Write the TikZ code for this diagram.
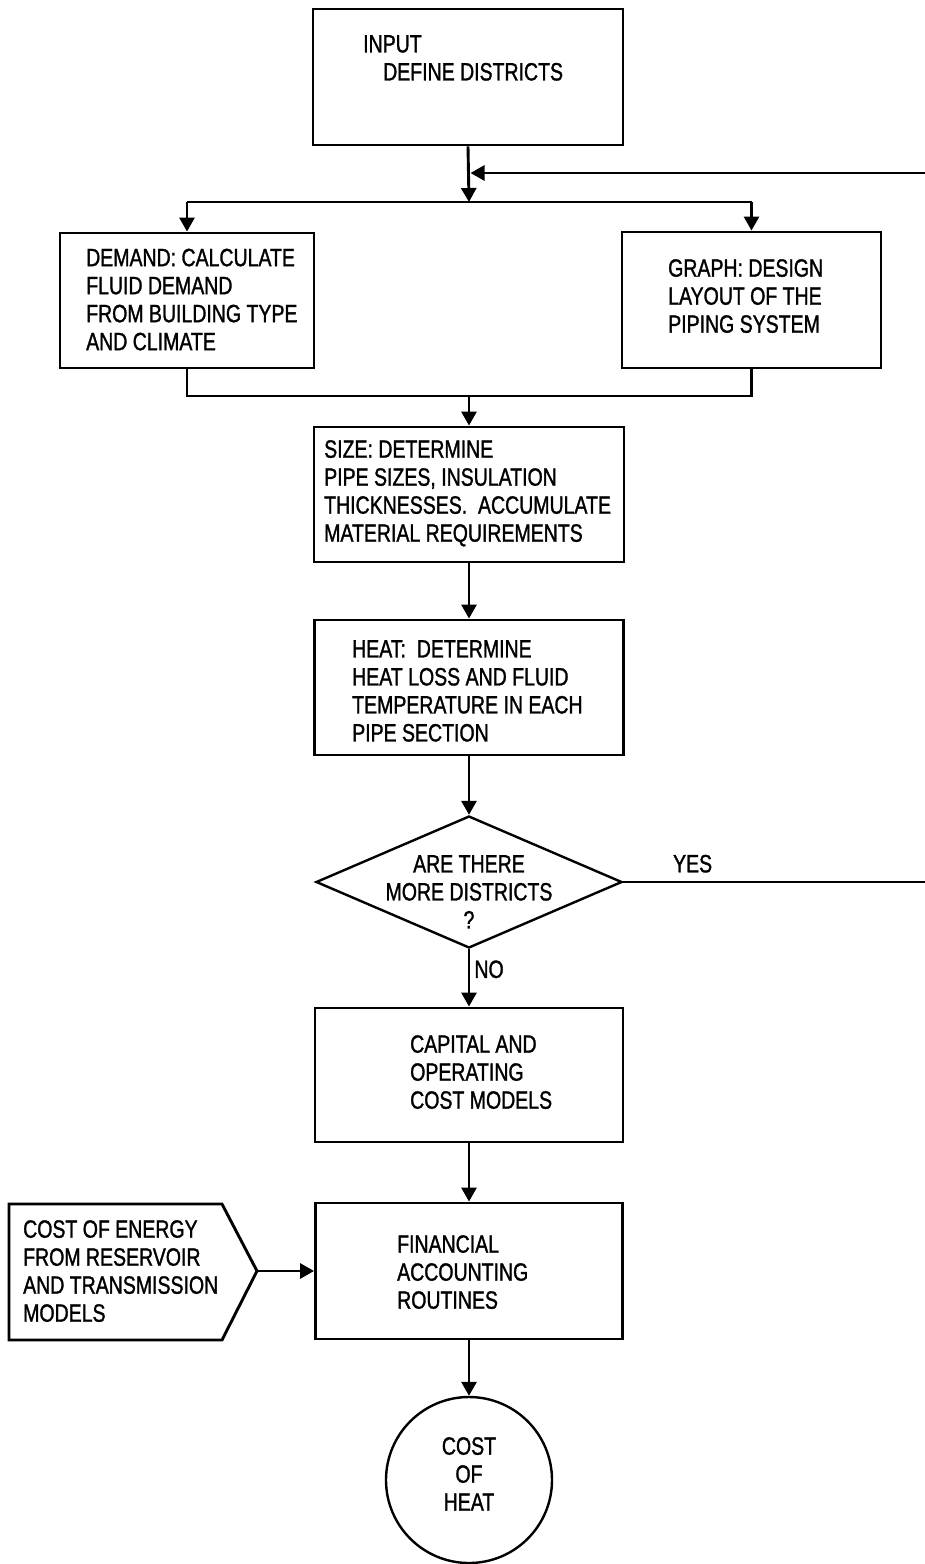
\documentclass[tikz,border=0pt]{standalone}
\usepackage{fontspec}
\setmainfont{Liberation Sans}[FakeStretch=0.78,FakeBold=1.2]
\usetikzlibrary{arrows.meta,shapes.geometric}
\begin{document}
\begin{tikzpicture}[x=1pt,y=-1pt,
  box/.style={draw, rectangle, line width=2.9pt, inner sep=0pt},
  txt/.style={inner sep=0pt, anchor=north west, align=left, font=\fontsize{25}{28}\selectfont},
  ctxt/.style={inner sep=0pt, anchor=north, align=center, font=\fontsize{25}{28}\selectfont},
  conn/.style={line width=2.9pt},
  arr/.style={conn, -{Triangle[length=14pt,width=15pt]}}]
\fill[white] (0,0) rectangle (925,1564);
\useasboundingbox (0,0) rectangle (925,1564);

% boxes
\node[box, minimum width=310pt, minimum height=136pt] (input) at (468,77) {};
\node[box, minimum width=254pt, minimum height=135pt] (demand) at (187,300.5) {};
\node[box, minimum width=259pt, minimum height=136pt] (graph) at (751.5,300) {};
\node[box, minimum width=310pt, minimum height=135pt] (size) at (469,494.5) {};
\node[box, minimum width=309pt, minimum height=135pt] (heat) at (469,687.5) {};
\node[draw, diamond, line width=2.4pt, minimum width=306pt, minimum height=132pt, inner sep=0pt] (dia) at (469,882) {};
\node[box, minimum width=308pt, minimum height=134pt] (capital) at (469,1075) {};
\node[box, minimum width=307pt, minimum height=136pt] (fin) at (469,1271) {};
\node[draw, circle, line width=2.4pt, minimum size=166pt, inner sep=0pt] (heatcost) at (469,1480) {};
\draw[line width=2.9pt, line join=miter] (9,1204) -- (222,1204) -- (257,1271) -- (222,1340) -- (9,1340) -- cycle;
\coordinate (etip) at (257,1271);

% texts
\node[txt] (tinput) at (363,35) {INPUT\\\hspace*{20pt}DEFINE DISTRICTS};
\node[txt] (tdemand) at (86,248.5) {DEMAND: CALCULATE\\FLUID DEMAND\\FROM BUILDING TYPE\\AND CLIMATE};
\node[txt] (tgraph) at (668,259) {GRAPH: DESIGN\\LAYOUT OF THE\\PIPING SYSTEM};
\node[txt] (tsize) at (324,440) {SIZE: DETERMINE\\PIPE SIZES, INSULATION\\THICKNESSES.\ \ ACCUMULATE\\MATERIAL REQUIREMENTS};
\node[txt] (theat) at (352,640) {HEAT:\ \ DETERMINE\\HEAT LOSS AND FLUID\\TEMPERATURE IN EACH\\PIPE SECTION};
\node[ctxt] (tdia) at (469,855) {ARE THERE\\MORE DISTRICTS\\?};
\node[txt] (tcapital) at (410,1035) {CAPITAL AND\\OPERATING\\COST MODELS};
\node[txt] (tenergy) at (23,1220) {COST OF ENERGY\\FROM RESERVOIR\\AND TRANSMISSION\\MODELS};
\node[txt] (tfin) at (397,1235) {FINANCIAL\\ACCOUNTING\\ROUTINES};
\node[ctxt] (tcost) at (469,1437) {COST\\OF\\HEAT};

% connector points
\coordinate (split) at (469,202);
\coordinate (join) at (469,396);
\coordinate (fbin) at (925,173);
\coordinate (fb) at (470.5,173);
\coordinate (yesend) at (dia.east -| fbin);

% connectors
\draw[arr] (input.south) -- (split);
\draw[conn] (demand.north |- split) -- (graph.north |- split);
\draw[arr] (demand.north |- split) -- (demand.north);
\draw[arr] (graph.north |- split) -- (graph.north);
\draw[arr] (fbin) -- (fb);
\draw[conn] (demand.south) |- (join) -| (graph.south);
\draw[arr] (join) -- (size.north);
\draw[arr] (size.south) -- (heat.north);
\draw[arr] (heat.south) -- (dia.north);
\draw[conn] (dia.east) -- node[above, font=\fontsize{25}{28}\selectfont, pos=0.23, inner sep=8pt] (yes) {YES} (yesend);
\draw[arr] (dia.south) -- node[right, font=\fontsize{25}{28}\selectfont, pos=0.35, inner sep=4pt] (no) {NO} (capital.north);
\draw[arr] (capital.south) -- (fin.north);
\draw[arr] (etip) -- (fin.west);
\draw[arr] (fin.south) -- (heatcost.north);
\end{tikzpicture}
\end{document}
